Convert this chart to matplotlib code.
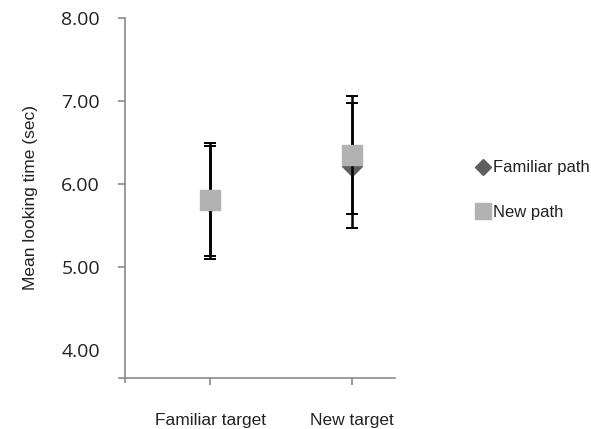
import matplotlib
matplotlib.use("Agg")
from matplotlib import pyplot as plt
import numpy as np

# mean looking times and error margins per target type
targets = ["Familiar target", "New target"]
familiar_path_mean = [5.78, 6.22]
familiar_path_err = [0.68, 0.75]
new_path_mean = [5.81, 6.35]
new_path_err = [0.68, 0.71]
yticks = [4.0, 5.0, 6.0, 7.0, 8.0]

sans = ["Liberation Sans", "DejaVu Sans"]
axis_grey = "#8a8a8a"
text_col = "#222222"

fig = plt.figure(figsize=(5.91, 4.29), dpi=100)
ax = fig.add_axes([0.2115, 0.119, 0.4565, 0.839])

x = np.arange(len(targets))
ax.errorbar(x, familiar_path_mean, yerr=familiar_path_err, fmt="D", color="#5e5e5e",
            ms=9.7, ecolor="black", elinewidth=1.8, capsize=4.5, capthick=1.4,
            label="Familiar path", zorder=3)
ax.errorbar(x, new_path_mean, yerr=new_path_err, fmt="s", color="#b2b2b2",
            ms=13.7, ecolor="black", elinewidth=1.8, capsize=4.5, capthick=1.4,
            label="New path", zorder=4)

ax.set_xlim(-0.6, 1.3)
ax.set_ylim(3.66, 8.0)
ax.set_yticks(yticks)
ax.set_yticklabels(["%.2f" % v for v in yticks], family=["Open Sans", "DejaVu Sans"],
                   fontsize=14, color=text_col)
ax.yaxis.get_major_ticks()[0].tick1line.set_visible(False)
ax.set_xticks(x)
ax.set_xticklabels(targets, family=sans, fontsize=12.5, color=text_col)
ax.tick_params(axis="y", length=5, width=1.2, color=axis_grey, pad=13)
ax.tick_params(axis="x", length=5, width=1.2, color=axis_grey, pad=20)

ax.set_ylabel("Mean looking time (sec)", family=sans, fontsize=12.5,
              color=text_col, labelpad=17)

for side in ["top", "right"]:
    ax.spines[side].set_visible(False)
for side in ["left", "bottom"]:
    ax.spines[side].set_color(axis_grey)
    ax.spines[side].set_linewidth(1.2)

# little crossing stub at the axes corner
ax.plot([-0.6, -0.645], [3.66, 3.66], color=axis_grey, lw=1.2, clip_on=False)
ax.plot([-0.6, -0.6], [3.66, 3.61], color=axis_grey, lw=1.2, clip_on=False)

handles, labels = ax.get_legend_handles_labels()
handles = [h[0] for h in handles]
leg = fig.legend(handles, labels, loc="center left", bbox_to_anchor=(0.775, 0.557),
                 frameon=False, handletextpad=0.0, handlelength=1.2,
                 labelspacing=1.75, markerscale=0.85, prop={"family": sans, "size": 12})
for t in leg.get_texts():
    t.set_color(text_col)

fig.savefig("out.png", dpi=100)
